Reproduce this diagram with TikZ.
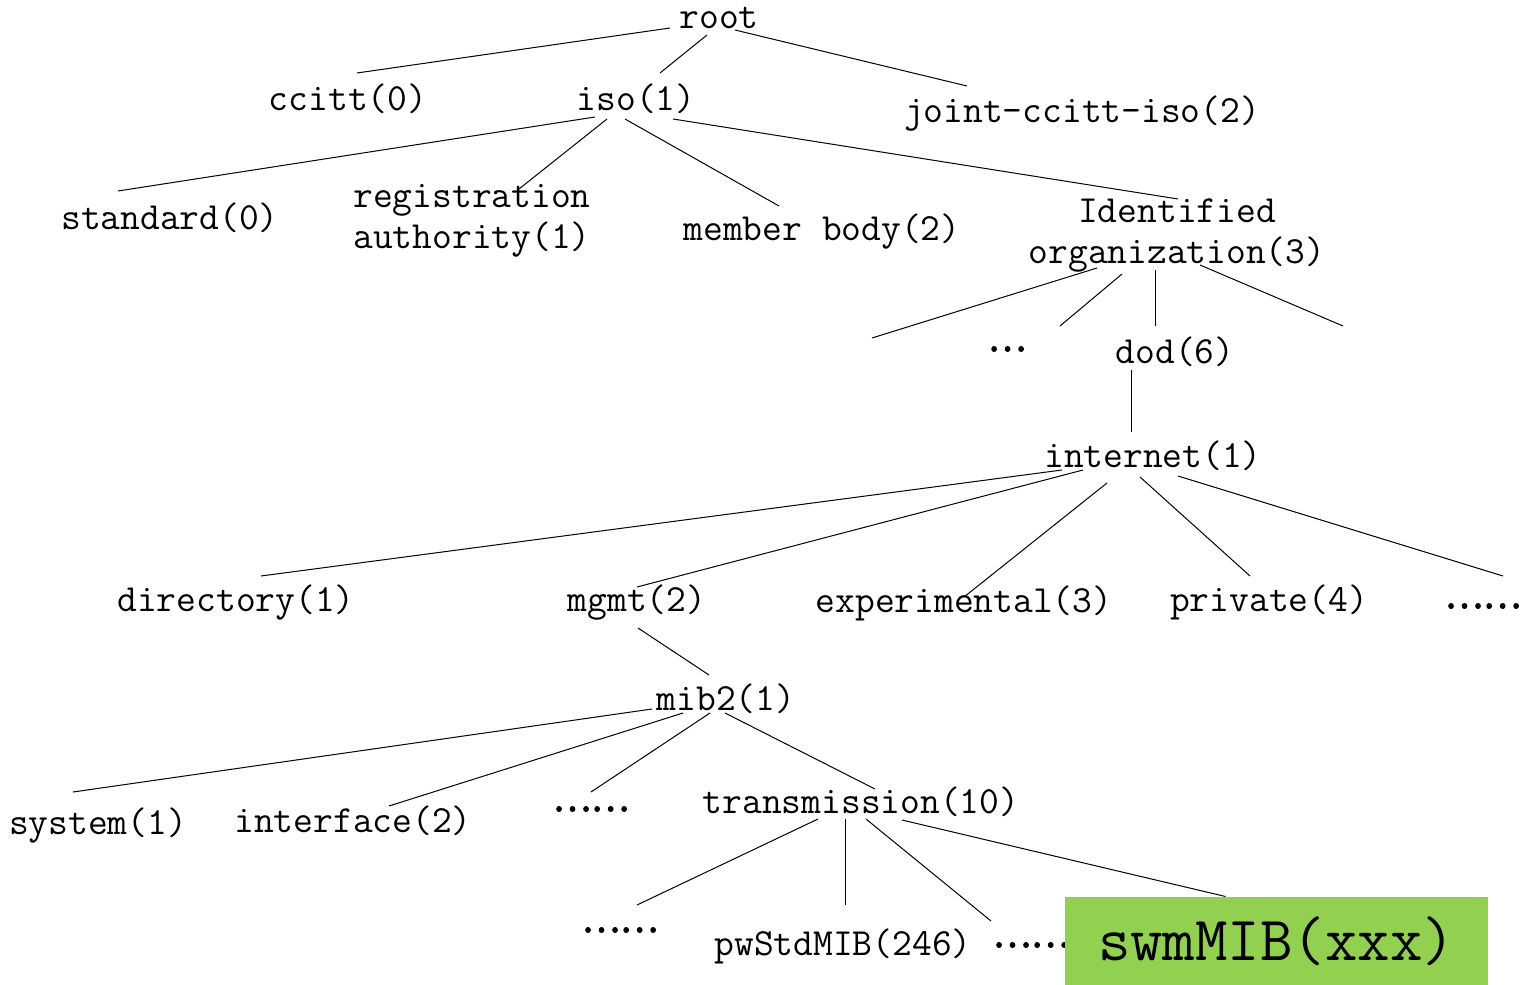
\documentclass[tikz,border=0pt]{standalone}
\usepackage{fontspec}
\newfontfamily\cjkfont[FakeBold=2.5]{Noto Sans CJK SC}
\usetikzlibrary{calc}
\definecolor{mibgreen}{RGB}{146,208,80}

\begin{document}
\begin{tikzpicture}[
	x=0.5pt, y=-0.5pt,
	oid/.style={font=\ttfamily\fontsize{19.2}{20.5}\selectfont\addfontfeature{FakeBold=0.8},
		inner sep=0pt},
	more/.style={font=\cjkfont\fontsize{18}{20}\selectfont, inner sep=0pt},
	ours/.style={font=\ttfamily\fontsize{31.5}{33}\selectfont\addfontfeature{FakeBold=0.8},
		inner sep=0pt, fill=mibgreen, minimum width=211.5pt, minimum height=44pt},
	line width=0.5pt
	]
	\useasboundingbox (0,0) rectangle (1528,985);

	% top of the OID tree
	\node[oid] (root) at (719,18) {root};
	\node[oid] (ccitt) at (348,99) {ccitt(0)};
	\node[oid] (iso) at (636,99) {iso(1)};
	\node[oid] (joint) at (1082,114) {joint-ccitt-iso(2)};
	\node[oid] (std) at (170,218) {standard(0)};
	\node[oid, align=left] (reg) at (472,221) {registration\\authority(1)};
	\node[oid] (member) at (822,232) {member body(2)};
	\node[oid, align=center] (ident) at (1177,236) {Identified\\organization(3)};
	\node[more] (odots) at (1007,349) {…};
	\node[oid] (dod) at (1175,352) {dod(6)};
	\coordinate (org0) at (872,338);
	\coordinate (org7) at (1343,326);

	% internet subtree
	\node[oid] (internet) at (1153,456) {internet(1)};
	\node[oid] (dir) at (236,603) {directory(1)};
	\node[oid] (mgmt) at (637,603) {mgmt(2)};
	\node[oid] (exper) at (964,603) {experimental(3)};
	\node[oid] (priv) at (1269,602) {private(4)};
	\node[more] (idots) at (1483,606) {……};
	\node[oid] (mib) at (726,699) {mib2(1)};
	\node[oid] (sys) at (98,826) {system(1)};
	\node[oid] (iface) at (353,821) {interface(2)};
	\node[more] (mdots) at (591,809) {……};
	\node[oid] (trans) at (861,802) {transmission(10)};
	\node[more] (tdots1) at (620,930) {……};
	\node[oid] (pw) at (843,946) {pwStdMIB(246)};
	\node[more] (tdots2) at (1031,945) {……};
	\node[ours] (swm) at (1276.5,941) {swmMIB(xxx)};

	% branches: parent/offset/child/offset
	\foreach \a/\p/\b/\q in {
		root/{-49,10}/ccitt/{9,-26}, root/{-12,17}/iso/{24,-26},
		root/{16,12}/joint/{-115,-28},
		iso/{-41,18}/std/{-52,-27}, iso/{-29,20}/reg/{47,-32},
		iso/{-11,20}/member/{-43,-26}, iso/{37,20}/ident/{1,-37},
		ident/{-80,32}/org0/{0,0}, ident/{-55,38}/odots/{53,-23},
		ident/{-22,34}/dod/{-20,-26}, ident/{23,29}/org7/{0,0},
		dod/{-44,18}/internet/{-22,-24},
		internet/{-91,14}/dir/{25,-27}, internet/{-70,14}/mgmt/{0,-16},
		internet/{-46,27}/exper/{0,-6}, internet/{-13,21}/priv/{-19,-26},
		internet/{25,20}/idots/{20,-30},
		mgmt/{1,25}/mib/{-17,-24},
		mib/{-74,10}/sys/{-25,-34}, mib/{-43,14}/iface/{36,-15},
		mib/{-16,14}/mdots/{0,-17}, mib/{-1,14}/trans/{14,-13},
		trans/{-43,17}/tdots1/{17,-25}, trans/{-16,17}/pw/{2,-41},
		trans/{5,17}/tdots2/{-40,-24}}
		\draw ($(\a)+(\p)$) -- ($(\b)+(\q)$);
	\draw ($(trans)+(41,18)$) -- ($(swm.north)+(-51,0)$);
\end{tikzpicture}
\end{document}
